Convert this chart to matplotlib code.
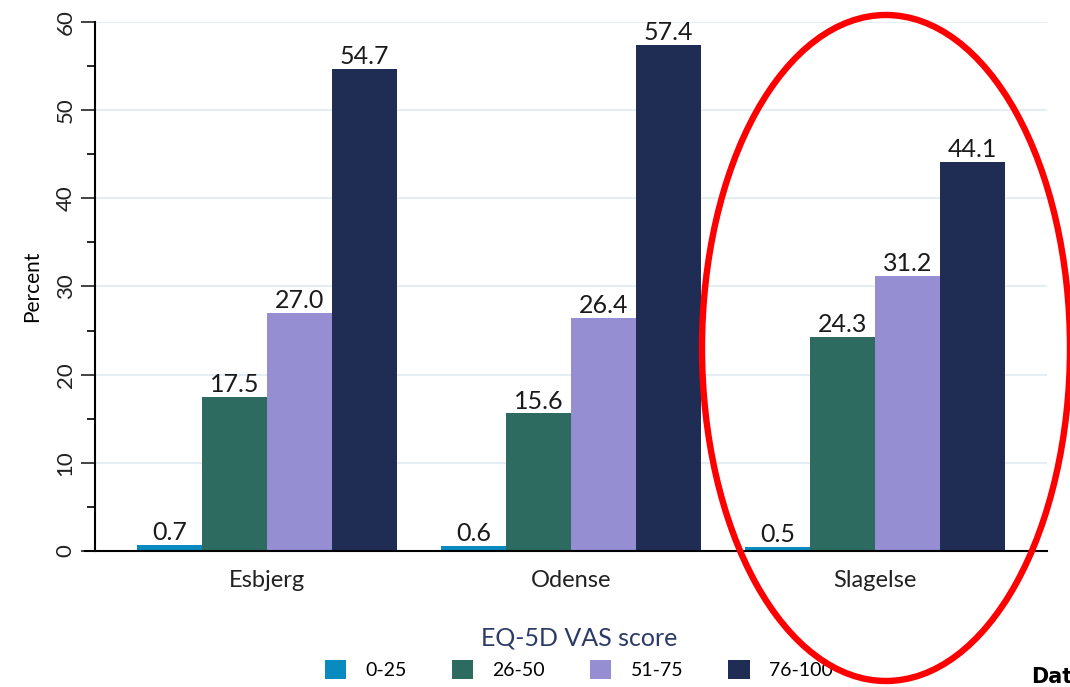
import matplotlib.pyplot as plt
import numpy as np
from matplotlib.patches import Ellipse
from matplotlib.ticker import MultipleLocator

plt.rcParams["font.family"] = ["Lato", "DejaVu Sans"]

# EQ-5D VAS score distribution per site (percent)
sites = ["Esbjerg", "Odense", "Slagelse"]
score_groups = ["0-25", "26-50", "51-75", "76-100"]
pct_0_25 = [0.7, 0.6, 0.5]
pct_26_50 = [17.5, 15.6, 24.3]
pct_51_75 = [27.0, 26.4, 31.2]
pct_76_100 = [54.7, 57.4, 44.1]

colors = ["#0a8bbf", "#2d6b61", "#958ed2", "#1f2d54"]
series = [pct_0_25, pct_26_50, pct_51_75, pct_76_100]

fig = plt.figure(figsize=(10.7, 6.87), dpi=100)
ax = fig.add_axes([0.0888, 0.198, 0.8897, 0.770])

x = np.arange(len(sites))
w = 0.214
for i, (vals, c, lab) in enumerate(zip(series, colors, score_groups)):
    pos = x + (i - 1.5) * w
    bars = ax.bar(pos, vals, width=w, color=c, label=lab, zorder=2)
    for b, v in zip(bars, vals):
        ax.text(b.get_x() + b.get_width() / 2, v + 0.1, f"{v:.1f}",
                ha="center", va="bottom", fontsize=18, color="#1a1a1a")

ax.set_xlim(-0.566, 2.566)
ax.set_ylim(0, 60)
ax.set_xticks(x)
ax.set_xticklabels(sites, fontsize=17, color="#222222")
ax.tick_params(axis="x", length=0, pad=14)
ax.yaxis.set_major_locator(MultipleLocator(10))
ax.yaxis.set_minor_locator(MultipleLocator(5))
ax.tick_params(axis="y", which="major", length=10, width=1.2, labelsize=16,
               labelrotation=90, pad=4, colors="#222222")
ax.tick_params(axis="y", which="minor", length=6, width=1.2)
for lbl in ax.get_yticklabels():
    lbl.set_va("center")
ax.set_ylabel("Percent", fontsize=15, labelpad=10)
ax.grid(axis="y", color="#e6edf2", linewidth=1.5, zorder=0)
ax.set_axisbelow(True)
for s in ["top", "right"]:
    ax.spines[s].set_visible(False)
ax.spines["left"].set_linewidth(1.5)
ax.spines["bottom"].set_linewidth(1.5)
ax.spines["bottom"].set_bounds(-0.566 - 10 / 304, 2.566)
ax.spines["bottom"].set_clip_on(False)

leg = fig.legend(loc="lower center", bbox_to_anchor=(0.541, -0.014), ncol=4,
                 frameon=False, fontsize=14, title="EQ-5D VAS score",
                 title_fontsize=18, handlelength=1.1, handleheight=1.1,
                 columnspacing=2.3, handletextpad=1.0, labelspacing=0.2)
leg.get_title().set_color("#2b3a67")
leg._legend_box.sep = 8

# red ring around the Slagelse group
ring = Ellipse((886 / 1070, 1 - 348 / 687), 368 / 1070, 666 / 687,
               transform=fig.transFigure, fill=False, edgecolor="#ff0000",
               linewidth=4.6, zorder=10)
fig.add_artist(ring)

fig.text(1031 / 1070, 1 - 677 / 687, "Dat", fontsize=15, fontweight="bold",
         fontfamily="DejaVu Sans", ha="left", va="center", color="black")

fig.savefig("out.png", dpi=100)
